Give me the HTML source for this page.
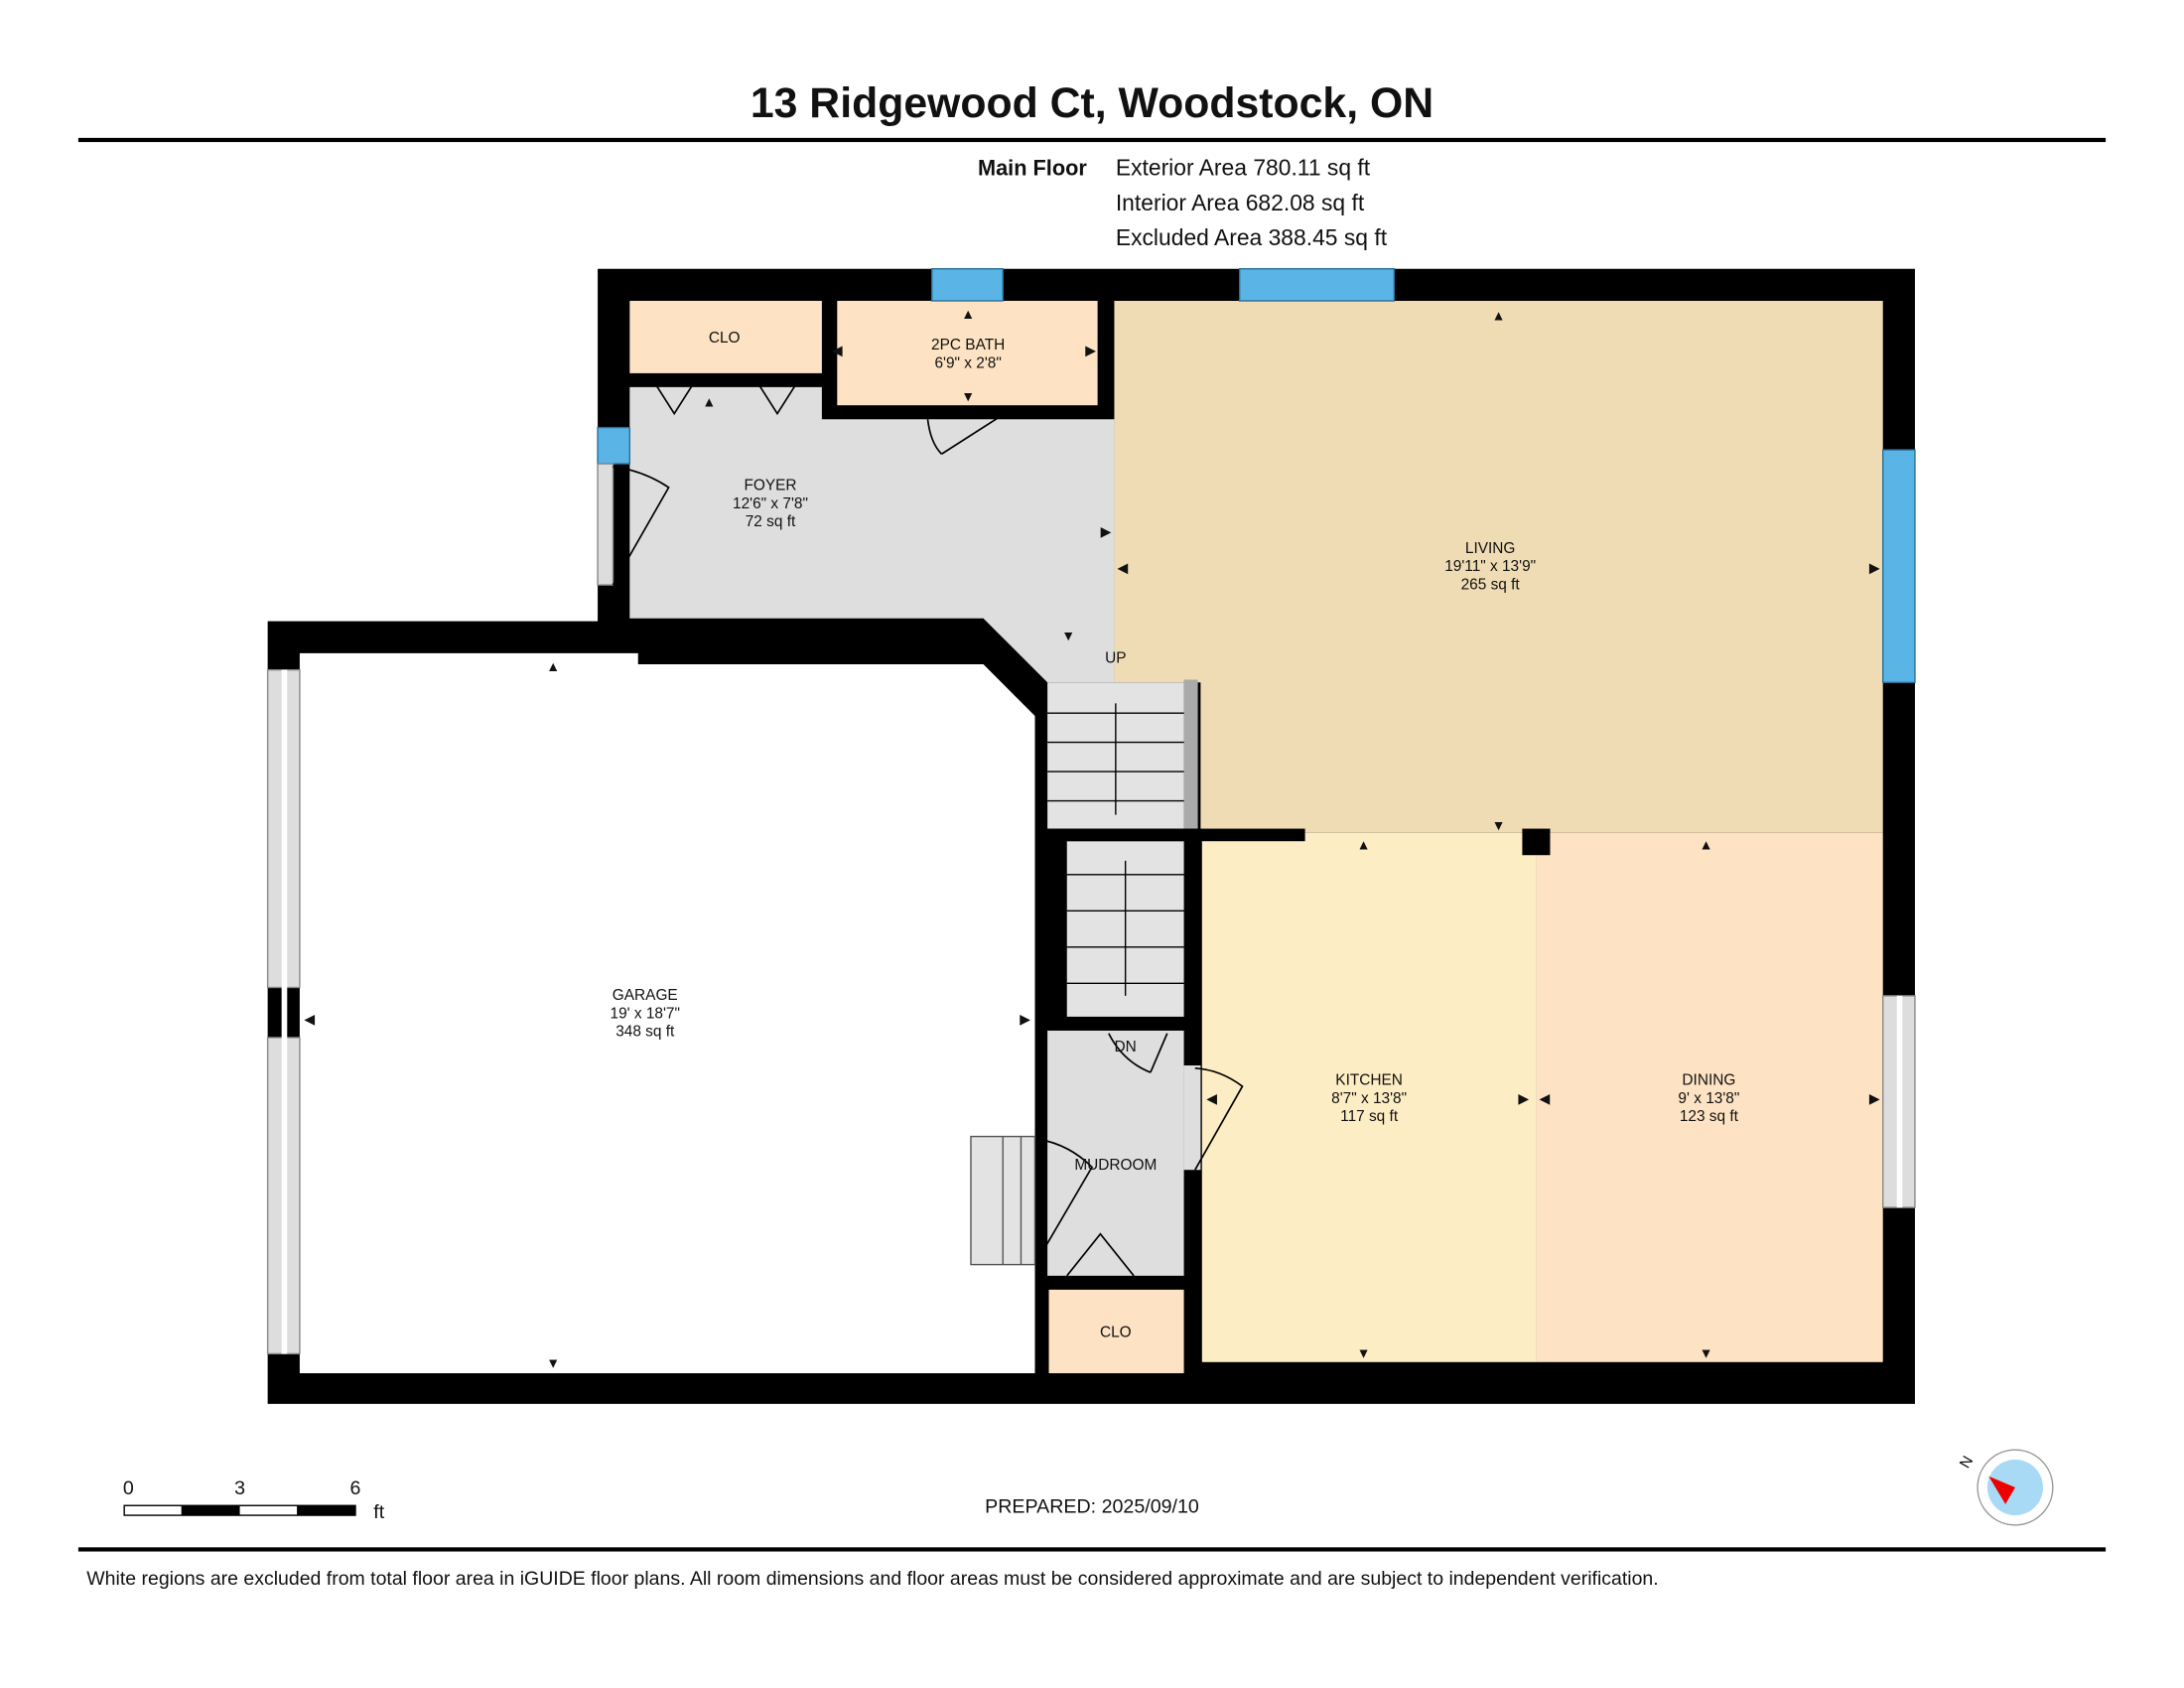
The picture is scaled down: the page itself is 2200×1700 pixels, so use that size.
<!DOCTYPE html>
<html><head><meta charset="utf-8"><style>
html,body{margin:0;padding:0;background:#fff;}
svg{display:block;}
text{font-family:"Liberation Sans",Arial,sans-serif;fill:#111;}
.s{font-size:11px;text-anchor:middle;}
</style></head><body>
<svg width="2200" height="1700" viewBox="0 0 1568 1212" xmlns="http://www.w3.org/2000/svg">
<rect width="1568" height="1212" fill="#fff"/>
<text x="784" y="84" font-size="30.5" font-weight="bold" text-anchor="middle">13 Ridgewood Ct, Woodstock, ON</text>
<rect x="56" y="99" width="1456" height="3" fill="#000"/>
<text x="702" y="126" font-size="15.5" font-weight="bold">Main Floor</text>
<text x="801" y="126" font-size="16.3">Exterior Area 780.11 sq ft</text>
<text x="801" y="151" font-size="16.3">Interior Area 682.08 sq ft</text>
<text x="801" y="176" font-size="16.3">Excluded Area 388.45 sq ft</text>

<polygon points="429,193 1375,193 1375,1008 192,1008 192,446 429,446" fill="#000"/>
<polygon points="215,469 458,469 458,477 706,477 743,514 743,986 215,986" fill="#fff"/>
<polygon points="452,278 590,278 590,301 800,301 800,490 752,490 706,444 452,444" fill="#dedede"/>
<rect x="452" y="216" width="138" height="52" fill="#fde3c3"/>
<rect x="601" y="216" width="187" height="75" fill="#fde3c3"/>
<polygon points="800,216 1352,216 1352,598 862,598 862,490 800,490" fill="#f0dcb4"/>
<rect x="863" y="598" width="240" height="380" fill="#fdedc4"/>
<rect x="1103" y="598" width="249" height="380" fill="#fde3c3"/>
<rect x="752" y="490" width="98" height="105" fill="#e3e3e3"/>
<rect x="850" y="488" width="10" height="107" fill="#aaa"/>
<rect x="766" y="604" width="84" height="126" fill="#e3e3e3"/>
<g stroke="#000" stroke-width="1">
<line x1="752" y1="512" x2="850" y2="512"/><line x1="752" y1="533" x2="850" y2="533"/><line x1="752" y1="554" x2="850" y2="554"/><line x1="752" y1="575" x2="850" y2="575"/>
<line x1="766" y1="628" x2="850" y2="628"/><line x1="766" y1="654" x2="850" y2="654"/><line x1="766" y1="680" x2="850" y2="680"/><line x1="766" y1="706" x2="850" y2="706"/>
<line x1="801" y1="505" x2="801" y2="585"/><line x1="808" y1="618" x2="808" y2="715"/>
</g>
<rect x="752" y="595" width="185" height="9" fill="#000"/>
<rect x="752" y="740" width="98" height="176" fill="#dedede"/>
<rect x="753" y="926" width="97" height="60" fill="#fde3c3"/>
<rect x="850" y="765" width="12" height="75" fill="#dedede"/>
<rect x="697" y="816" width="46" height="92" fill="#e3e3e3" stroke="#555"/>
<g stroke="#555" stroke-width="1"><line x1="720" y1="816" x2="720" y2="908"/><line x1="733" y1="816" x2="733" y2="908"/></g>
<rect x="1093" y="595" width="20" height="19" fill="#000"/>
<g fill="#5ab4e6" stroke="#2a6f99" stroke-width="1">
<rect x="669" y="193" width="51" height="23"/><rect x="890" y="193" width="111" height="23"/>
<rect x="1352" y="323" width="23" height="167"/><rect x="429" y="307" width="23" height="26"/>
</g>
<g fill="#ddd" stroke="#888">
<rect x="192" y="481" width="23" height="228"/><rect x="192" y="745" width="23" height="227"/>
<rect x="1352" y="715" width="23" height="152"/><rect x="429" y="333" width="11" height="87"/>
</g>
<rect x="202" y="481" width="4" height="491" fill="#fff"/>
<rect x="1362" y="715" width="4" height="152" fill="#fff"/>
<g fill="none" stroke="#000" stroke-width="1.2">
<path d="M440,420 L480,350 Q462,338 440,335"/>
<path d="M676,326 L726,294 M666,301 Q668,318 676,326"/>
<path d="M858,840 L892,780 Q876,768 858,767"/>
<path d="M826,770 L838,742 M796,742 Q806,762 826,770"/>
<path d="M746,903 L784,838 Q768,822 746,818"/>
<path d="M470,275 L484,297 L498,275 M544,275 L558,297 L572,275"/>
<path d="M766,916 L790,886 L814,916"/>
</g>
<text class="s" x="520" y="246">CLO</text>
<text class="s" x="695" y="251">2PC BATH</text><text class="s" x="695" y="264">6'9" x 2'8"</text>
<text class="s" x="553" y="352">FOYER</text><text class="s" x="553" y="365">12'6" x 7'8"</text><text class="s" x="553" y="378">72 sq ft</text>
<text class="s" x="1070" y="397">LIVING</text><text class="s" x="1070" y="410">19'11" x 13'9"</text><text class="s" x="1070" y="423">265 sq ft</text>
<text class="s" x="801" y="476">UP</text>
<text class="s" x="463" y="718">GARAGE</text><text class="s" x="463" y="731">19' x 18'7"</text><text class="s" x="463" y="744">348 sq ft</text>
<text class="s" x="808" y="755">DN</text>
<text class="s" x="983" y="779">KITCHEN</text><text class="s" x="983" y="792">8'7" x 13'8"</text><text class="s" x="983" y="805">117 sq ft</text>
<text class="s" x="1227" y="779">DINING</text><text class="s" x="1227" y="792">9' x 13'8"</text><text class="s" x="1227" y="805">123 sq ft</text>
<text class="s" x="801" y="840">MUDROOM</text>
<text class="s" x="801" y="960">CLO</text>
<g font-size="10" text-anchor="middle">
<text x="1076" y="230">▲</text><text x="1076" y="596">▼</text><text x="794" y="385">▶</text><text x="806" y="411">◀</text><text x="1346" y="411">▶</text>
<text x="695" y="229">▲</text><text x="695" y="288">▼</text><text x="509" y="292">▲</text>
<text x="397" y="482">▲</text><text x="397" y="982">▼</text><text x="222" y="735">◀</text><text x="736" y="735">▶</text>
<text x="979" y="610">▲</text><text x="979" y="975">▼</text><text x="1225" y="610">▲</text><text x="1225" y="975">▼</text>
<text x="1094" y="792">▶</text><text x="1109" y="792">◀</text><text x="1346" y="792">▶</text><text x="870" y="792">◀</text>
<text x="767" y="460">▼</text><text x="601" y="255">◀</text><text x="783" y="255">▶</text>
</g>
<text x="92" y="1073" font-size="14" text-anchor="middle">0</text>
<text x="172" y="1073" font-size="14" text-anchor="middle">3</text>
<text x="255" y="1073" font-size="14" text-anchor="middle">6</text>
<text x="268" y="1090" font-size="14">ft</text>
<rect x="89" y="1081" width="166" height="7" fill="#fff" stroke="#000"/>
<rect x="130" y="1081" width="42" height="7" fill="#000"/><rect x="213" y="1081" width="42" height="7" fill="#000"/>
<text x="784" y="1086" font-size="14" text-anchor="middle">PREPARED: 2025/09/10</text>
<circle cx="1447" cy="1068" r="27" fill="#fff" stroke="#999"/>
<circle cx="1447" cy="1068" r="20" fill="#a8daf5"/>
<polygon points="1428,1060 1447,1068 1440,1080" fill="#e00"/>
<text x="1413" y="1055" font-size="11" transform="rotate(-60 1413 1055)">N</text>
<rect x="56" y="1111" width="1456" height="3" fill="#000"/>
<text x="62" y="1138" font-size="13.9">White regions are excluded from total floor area in iGUIDE floor plans. All room dimensions and floor areas must be considered approximate and are subject to independent verification.</text>
</svg>
</body></html>
